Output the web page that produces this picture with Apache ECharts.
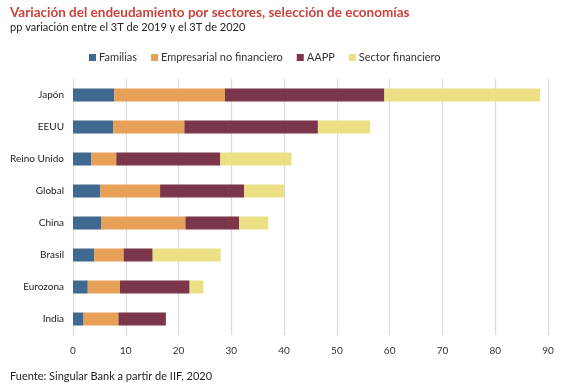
<!DOCTYPE html>
<html><head><meta charset="utf-8">
<script src="https://cdn.jsdelivr.net/npm/echarts@6/dist/echarts.min.js"></script>
<style>html,body{margin:0;padding:0;background:#fff}#c{width:567px;height:387px}</style>
</head><body><div id="c"></div>
<script>
const categories = ["Japón","EEUU","Reino Unido","Global","China","Brasil","Eurozona","India"];
const familias = [7.8, 7.6, 3.5, 5.2, 5.4, 4.0, 2.8, 2.0];
const empresarial = [21.0, 13.5, 4.7, 11.3, 15.9, 5.6, 6.1, 6.6];
const aapp = [30.2, 25.3, 19.7, 15.9, 10.2, 5.5, 13.2, 9.0];
const financiero = [29.5, 9.9, 13.5, 7.6, 5.5, 12.9, 2.6, 0];
const seriesNames = ["Familias","Empresarial no financiero","AAPP","Sector financiero"];
const colors = ["#416890","#e6a057","#7b364a","#ebe085"];
const xTicks = [0,10,20,30,40,50,60,70,80,90];

const font = "Lato, 'Open Sans', sans-serif";
const chart = echarts.init(document.getElementById('c'), null, {renderer:'canvas'});
const data = [familias, empresarial, aapp, financiero];
chart.setOption({
  animation:false,
  textStyle:{fontFamily:font},
  title:[
    {text:"Variación del endeudamiento por sectores, selección de economías", left:5, top:1,
     textStyle:{color:"#c9433b", fontSize:13.5, fontWeight:"bold", fontFamily:font}},
    {text:"pp variación entre el 3T de 2019 y el 3T de 2020", left:5, top:17,
     textStyle:{color:"#222", fontSize:11, fontWeight:"normal", fontFamily:font}},
    {text:"Fuente: Singular Bank a partir de IIF, 2020", left:5, top:366,
     textStyle:{color:"#222", fontSize:11, fontWeight:"normal", fontFamily:font}}
  ],
  legend:{data:seriesNames, left:84, top:47, itemWidth:7, itemHeight:7, itemGap:14,
    icon:'rect', textStyle:{fontSize:11, color:"#333", fontFamily:font, padding:[0,0,0,-2]}},
  grid:{left:73, right:19, top:79, bottom:52, containLabel:false},
  xAxis:{type:'value', min:0, max:90, interval:10,
    axisLine:{show:false}, axisTick:{show:false},
    splitLine:{lineStyle:{color:"#dadada", width:1.2}},
    axisLabel:{color:"#333", fontSize:10, margin:11, fontFamily:font,
      formatter:v=> xTicks.includes(v)? String(v):''}},
  yAxis:{type:'category', data:categories, inverse:true,
    axisLine:{show:false}, axisTick:{show:false},
    axisLabel:{color:"#222", fontSize:10, margin:9, fontFamily:font}},
  series: seriesNames.map((n,i)=>({name:n, type:'bar', stack:'t', barWidth:13,
    data:data[i], itemStyle:{color:colors[i]}}))
});
</script></body></html>
